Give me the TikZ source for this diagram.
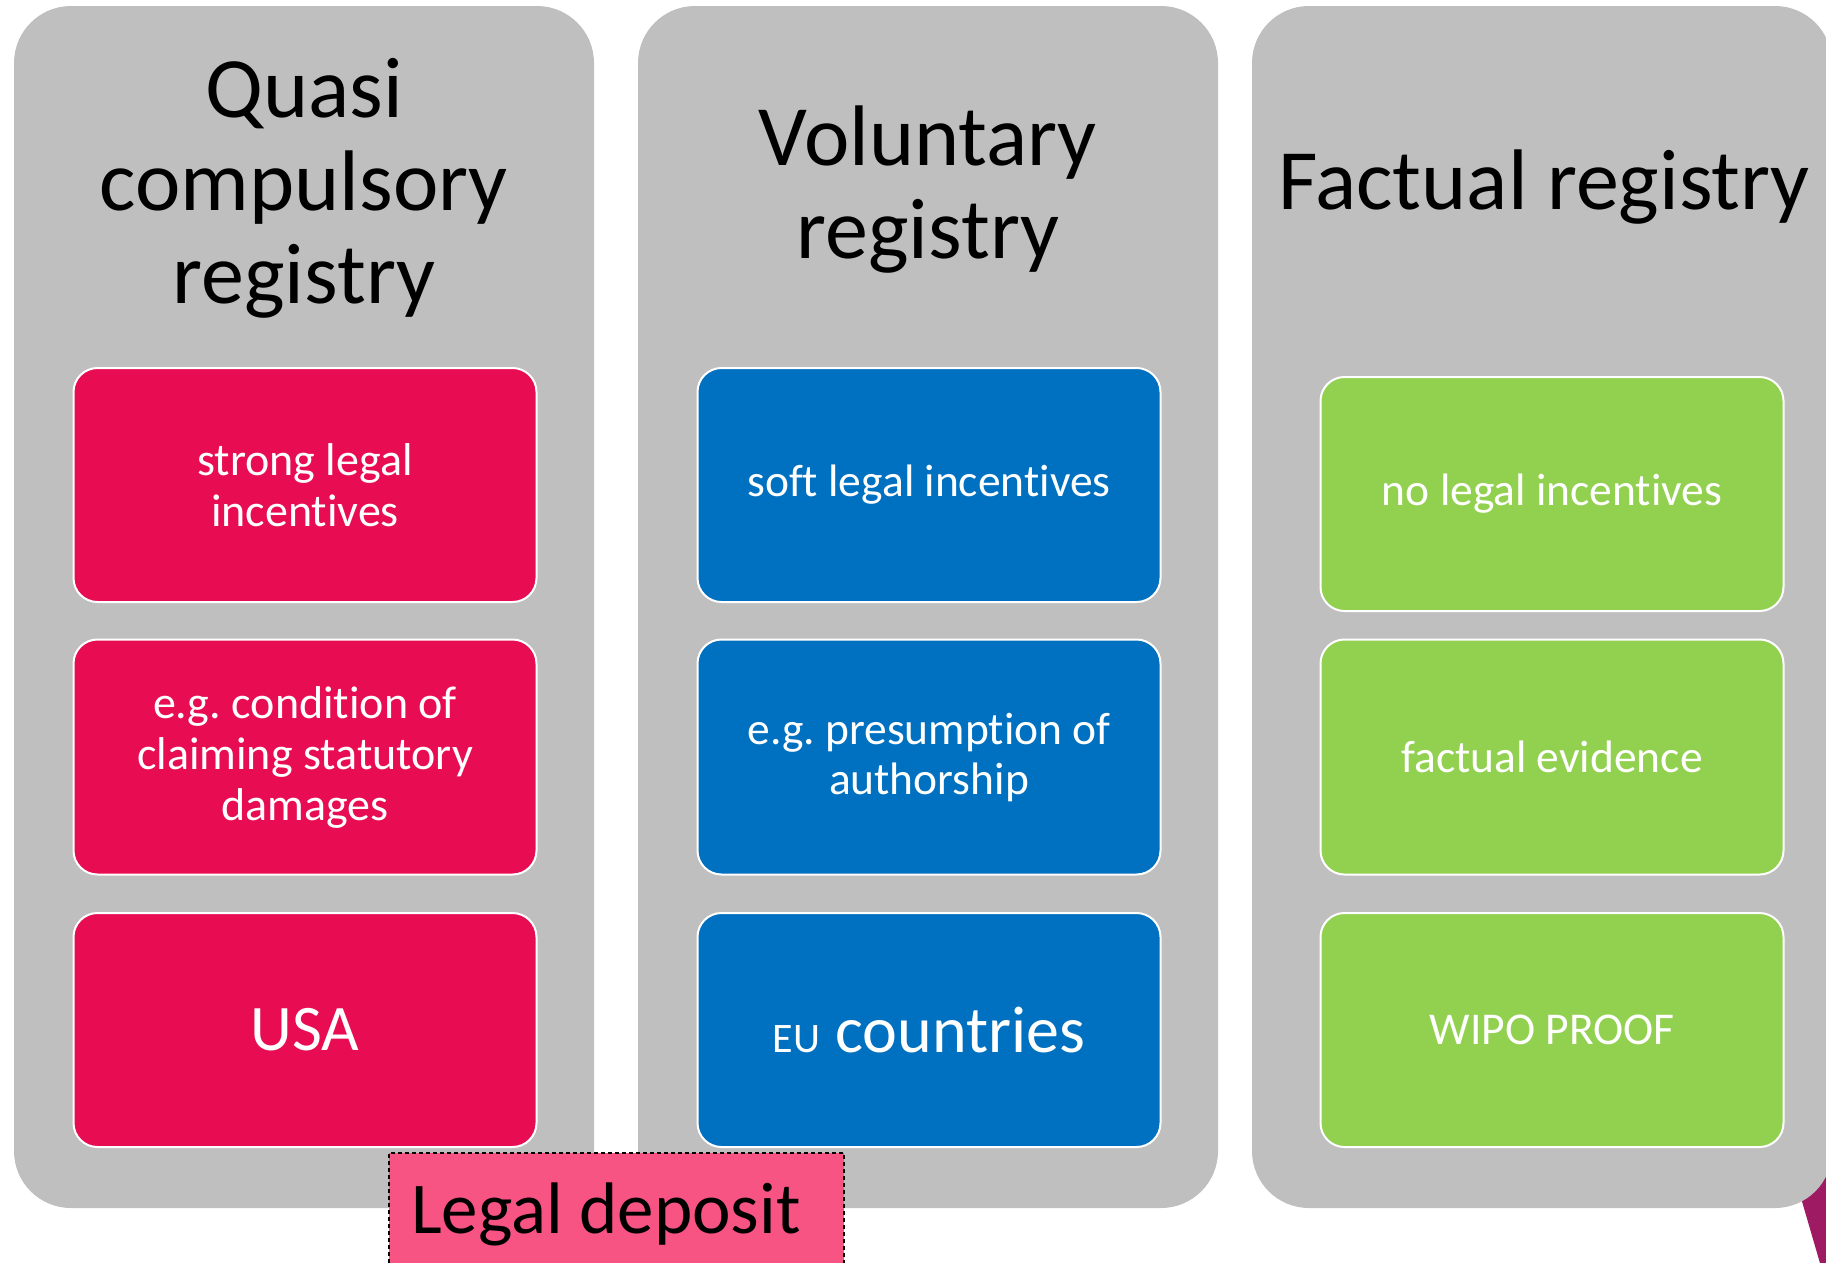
\documentclass[tikz,border=0pt]{standalone}
\usepackage{fontspec}
\setmainfont{Carlito}[Ligatures=CommonOff]
\frenchspacing
\definecolor{panelgray}{HTML}{BFBFBF}
\definecolor{redbox}{HTML}{E80D52}
\definecolor{bluebox}{HTML}{0070C0}
\definecolor{greenbox}{HTML}{92D050}
\definecolor{depositpink}{HTML}{F75383}
\definecolor{wedgepurple}{HTML}{9E1A62}
\begin{document}
\begin{tikzpicture}[x=1pt,y=-1pt,
  panel/.style={fill=panelgray, rounded corners=57pt, inner sep=0pt,
    minimum width=580pt, minimum height=1202pt},
  title/.style={align=center, font=\fontsize{86}{93}\selectfont, text=black, inner sep=0pt},
  cbox/.style={draw=white, line width=2pt, rounded corners=24pt, inner sep=0pt,
    minimum width=463pt, minimum height=234pt, align=center, text=white},
  redtxt/.style={font=\fontsize{46}{51}\selectfont},
  bluetxt/.style={font=\fontsize{45.5}{50}\selectfont},
  deposit/.style={fill=depositpink, draw=black, line width=1.6pt,
    dash pattern=on 4pt off 3pt, inner sep=0pt}]
\useasboundingbox (0,0) rectangle (1826,1262);
\fill[white] (0,0) rectangle (1826,1262);

% partly hidden shape behind the right-hand panel
\fill[wedgepurple] (1787,1150) -- (1830,1150) -- (1830,1270) -- (1822,1270) -- cycle;

% three grey column panels
\node[panel] (p1) at (304,607) {};
\node[panel] (p2) at (928,607) {};
\node[panel] (p3) at (1542,607) {};

% column headings (anchored on the baseline of their last line)
\node[title, anchor=base] (t1) at (304,303) {Quasi\\compulsory\\registry};
\node[title, anchor=base] (t2) at (928,258) {Voluntary\\registry};
\node[title, anchor=base] (t3) at (1544,209) {Factual registry};

% left column
\node[cbox, fill=redbox, redtxt] (r1) at (305,485) {strong legal\\incentives};
\node[cbox, fill=redbox, redtxt, minimum height=235pt] (r2) at (305,757) {e.g. condition of\\claiming statutory\\damages};
\node[cbox, fill=redbox, font=\fontsize{65}{70}\selectfont] (r3) at (305,1030) {USA};

% middle column
\node[cbox, fill=bluebox, bluetxt] (b1) at (929,485) {soft legal incentives};
\node[cbox, fill=bluebox, bluetxt, minimum height=235pt] (b2) at (929,757) {e.g. presumption of\\authorship};
\node[cbox, fill=bluebox, font=\fontsize{66}{72}\selectfont] (b3) at (929,1030) {{\fontsize{42}{46}\selectfont EU} countries};

% right column
\node[cbox, fill=greenbox, bluetxt] (g1) at (1552,494) {no legal incentives};
\node[cbox, fill=greenbox, bluetxt, minimum height=235pt] (g2) at (1552,757) {factual evidence};
\node[cbox, fill=greenbox, bluetxt] (g3) at (1552,1030) {WIPO PROOF};

% legal deposit label across the bottom
\node[deposit, anchor=north west, minimum width=455pt, minimum height=125pt] (dep) at (388,1152) {};
\node[anchor=base west, inner sep=0pt, font=\fontsize{73}{76}\selectfont] (deptext) at (411,1233) {Legal deposit};
\end{tikzpicture}
\end{document}
